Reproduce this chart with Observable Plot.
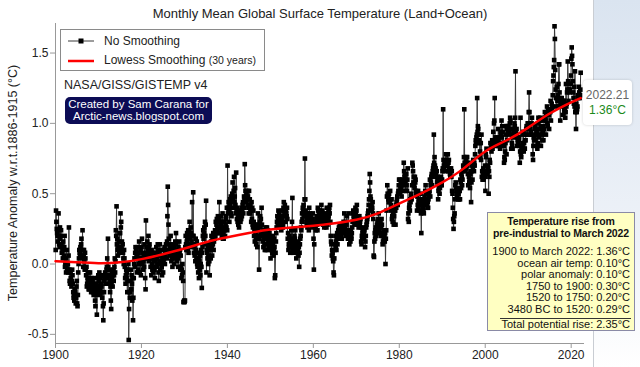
<!DOCTYPE html>
<html><head><meta charset="utf-8">
<script src="https://cdn.jsdelivr.net/npm/d3@7"></script>
<script src="https://cdn.jsdelivr.net/npm/@observablehq/plot@0.6"></script>
<style>
body{margin:0;background:#fff;font-family:"Liberation Sans",Arial,sans-serif;}
#wrap{position:relative;width:640px;height:367px;overflow:hidden;background:#fff}
#panel{position:absolute;left:593px;top:0;width:47px;height:367px;background:linear-gradient(#dae4f0,#eef2f8 65%,#ffffff);border-left:1px solid #c9cdd3}
#chart{position:absolute;left:0;top:0}
#title{position:absolute;left:0;width:640px;top:6px;text-align:center;font-size:13px;color:#222}
#ylab{position:absolute;left:13px;top:183px;transform:translate(-50%,-50%) rotate(-90deg);white-space:nowrap;font-size:12.5px;color:#222}
#legend{position:absolute;left:60px;top:29px;width:203px;height:40px;border:1px solid #8a8a8a;background:#fff}
.lg{position:absolute;left:43px;font-size:12px;color:#222;white-space:nowrap}
#src{position:absolute;left:64px;top:78px;font-size:12.5px;color:#222}
#credit{position:absolute;left:65px;top:97px;width:147px;height:27px;background:#0c0c55;border-radius:5px;color:#fff;font-size:11.5px;line-height:11.5px;text-align:center;padding-top:2px;box-sizing:border-box}
#tip{position:absolute;left:583px;top:80px;width:49px;height:45px;background:#fff;border-radius:4px;box-shadow:0 0 3px rgba(0,0,0,0.18);text-align:center;font-size:12px}
#table{position:absolute;left:487px;top:212px;width:148px;height:119px;background:#ffffc2;border:1px solid #8a8aa6;box-sizing:border-box;font-size:11px;color:#111;white-space:nowrap;overflow:hidden}
</style></head>
<body>
<div id="wrap">
  <div id="panel"></div>
  <div id="chart"></div>
  <div id="title"></div>
  <div id="ylab"></div>
  <div id="legend"></div>
  <div id="src"></div>
  <div id="credit"></div>
  <div id="tip"></div>
  <div id="table"></div>
</div>
<script>
// Monthly anomalies (hundredths of °C, w.r.t. 1886-1915), Jan 1900 .. Mar 2022, one array per decade
const d1900s = [10,38,30,25,22,20,16,24,36,20,14,12, 26,18,20,24,14,8,12,10,4,16,10,6, 12,20,-2,0,4,-6,-2,10,-4,-4,0,-6, 6,26,-4,-12,-14,-6,-10,-14,-16,-12,-4,-8, -14,-20,-24,-22,-26,-18,-20,-22,-28,-24,-16,-12, -28,-30,-22,-6,0,4,10,8,6,12,10,14, 18,6,10,24,4,-2,6,10,2,-4,8,4, -4,-8,-2,-16,-14,-10,-12,-6,-18,-14,-18,-10, -6,-12,-16,-20,-10,-14,-18,-12,-20,-16,-22,-10, -20,-14,-26,-30,-22,-18,-14,-36,-16,-10,-20,-8];
const d1910s = [-12,-16,-6,-18,-22,-10,-14,-8,-16,-20,-24,-8, -30,-40,-28,-20,-12,-10,-6,-14,-8,-10,-4,-2, 4,-10,18,-2,-14,-8,-4,-12,-20,-16,-26,-32, -14,-10,-6,-16,-8,-4,-12,-8,-2,4,-6,2, 24,20,41,14,18,10,6,12,16,8,22,10, 22,36,26,30,12,16,10,14,8,4,0,10, 4,-2,-10,-14,-8,-4,-10,-6,-20,-12,-4,0, -54,-32,-20,-24,-20,-12,-4,-18,-8,-14,-26,-10, -40,-24,-10,0,4,-2,8,12,4,10,6,-6, 6,12,-4,8,0,16,4,-6,2,10,-8,4];
const d1920s = [12,18,0,8,-4,2,6,-2,14,4,-10,-18, 31,8,12,4,16,6,10,20,2,12,14,8, 4,-2,6,-8,10,0,-4,4,8,-6,2,-2, -4,-10,2,6,8,12,-2,4,0,14,10,-6, -12,8,2,14,-4,6,0,10,-2,-8,4,6, -6,2,10,4,12,0,8,6,14,10,4,16, 34,55,42,28,18,10,14,6,12,20,8,2, 4,10,-2,14,6,8,12,0,10,4,16,6, 22,14,8,2,10,4,-2,12,6,16,8,10, -4,6,-2,-10,-4,-8,0,-6,-12,-27,-27,-26];
const d1930s = [-27,-26,12,20,14,10,16,22,18,10,24,8, 14,24,30,18,20,26,22,16,12,44,20,14, 51,20,8,12,6,14,2,18,10,4,16,0, -2,8,-6,4,-10,2,-4,6,-8,0,10,-2, -17,8,12,20,24,18,22,26,14,30,20,28, 45,-6,10,8,4,12,0,6,14,2,-8,10, 10,4,16,20,12,6,18,14,22,10,16,20, 18,24,20,30,22,28,32,24,26,34,30,22, 32,44,26,22,30,28,34,24,20,30,36,18, 22,18,26,30,24,20,28,32,34,26,40,24];
const d1940s = [70,36,40,44,38,30,42,46,40,48,36,34, 44,50,58,46,40,52,62,44,48,54,42,36, 65,38,32,40,30,34,28,36,26,30,38,32, 30,36,32,40,34,38,42,44,36,40,48,46, 71,56,52,48,44,50,46,52,42,48,40,36, 52,40,46,36,42,38,30,44,32,40,28,26, 38,30,20,24,16,28,22,18,14,20,26,12, 24,36,28,20,-4,18,30,34,26,32,22,40, 28,20,16,22,12,18,24,14,10,20,26,10, 22,14,26,18,10,24,16,20,12,22,18,14];
const d1950s = [4,10,18,12,16,8,14,20,6,10,18,12, -10,-8,8,16,22,26,30,34,28,32,38,30, 36,32,26,30,28,34,24,30,38,32,26,28, 40,44,38,36,42,34,30,38,36,34,40,32, 18,22,10,14,12,20,16,8,14,18,24,16, 30,47,10,12,8,16,14,20,18,24,10,12, 4,14,8,12,10,16,6,12,-2,8,14,18, 20,26,24,30,36,32,40,38,42,36,34,46, 75,46,38,34,30,28,32,26,36,30,34,24, 40,30,36,32,28,34,30,26,30,32,36,28];
const d1960s = [18,-4,14,30,28,26,24,30,32,34,28,24, 40,38,32,36,34,30,38,36,30,32,42,34, 36,38,30,28,34,32,26,30,34,36,28,32, 26,40,30,28,32,36,34,38,40,36,42,30, 20,16,14,6,10,8,4,2,-6,-8,4,10, 14,20,12,16,10,18,22,14,20,24,18,26, 18,28,24,20,26,22,20,18,24,28,22,26, 30,22,36,28,26,24,30,20,28,34,22,24, 18,24,36,20,14,22,18,16,24,20,18,22, 26,30,36,38,34,32,36,28,38,40,36,32];
const d1970s = [38,42,30,34,28,30,26,32,34,28,30,32, 26,16,14,20,18,22,24,20,22,18,24,26, 12,16,20,26,28,30,32,34,36,38,42,46, 52,64,58,48,46,40,42,38,40,44,36,32, 6,5,16,22,18,24,26,20,22,28,24,30, 30,32,36,26,24,28,22,30,20,26,32,28, 20,14,16,22,18,24,20,16,22,0,18,24, 38,48,56,50,48,46,44,50,44,46,52,46, 42,38,46,32,34,30,36,40,28,34,40,38, 38,28,42,40,44,46,48,42,50,52,56,60];
const d1980s = [52,60,50,56,54,58,48,56,60,52,58,56, 72,66,62,64,58,52,60,64,56,52,60,68, 32,36,30,40,42,38,46,44,48,50,46,56, 72,70,66,58,62,56,54,62,58,60,52,50, 50,38,48,42,52,40,44,46,38,44,42,50, 36,22,42,44,46,40,42,38,36,44,48,46, 52,56,50,46,44,42,40,44,40,46,48,50, 52,60,48,56,58,62,64,56,62,66,68,70, 92,72,76,70,66,68,64,62,66,58,60,62, 46,52,54,58,50,54,56,58,62,60,56,60];
const d1990s = [66,68,110,74,70,68,72,66,74,70,78,72, 72,74,70,78,66,72,74,68,66,64,62,66, 68,62,66,52,50,40,32,25,30,34,36,46, 56,58,54,52,50,48,54,52,46,50,46,52, 52,46,60,58,54,64,62,56,60,66,70,68, 76,110,72,70,66,68,74,76,72,76,70,64, 56,72,62,58,60,54,64,66,44,58,66,70, 60,68,74,70,66,72,70,78,84,88,86,90, 92,118,94,98,96,92,88,86,76,80,76,86, 74,92,62,66,60,64,68,60,64,66,62,70];
const d2000s = [52,78,76,82,66,64,66,70,68,50,66,62, 74,72,86,82,84,80,86,88,82,84,94,86, 100,102,118,88,90,86,88,84,90,86,88,84, 96,86,84,86,90,82,86,94,92,102,90,98, 84,94,86,84,72,76,74,80,86,92,98,78, 96,88,98,98,94,96,94,92,100,104,102,96, 82,96,86,84,82,92,90,96,94,100,98,104, 137,94,92,96,90,84,88,86,90,88,90,84, 72,80,104,78,76,80,82,84,86,92,94,80, 86,82,82,88,88,92,96,98,96,92,100,96];
const d2010s = [100,108,122,108,100,96,92,94,92,100,104,92, 78,74,84,90,88,90,96,98,88,96,92,94, 84,82,86,100,104,92,90,96,102,104,102,84, 98,96,92,88,94,98,88,96,102,104,108,104, 102,92,106,108,112,100,98,110,108,106,96,110, 110,108,116,102,110,114,110,112,120,130,134,140, 145,169,160,138,124,118,112,126,118,116,120,112, 128,142,142,122,118,102,114,116,112,118,116,114, 106,114,116,116,110,108,110,104,108,128,112,114, 122,124,144,130,116,124,124,122,124,128,128,134];
const d2020s = [146,154,148,142,130,122,118,114,126,112,137,108, 110,96,114,108,110,112,120,118,120,126,122,118, 120,124,136];

// Lowess smoothing (30 years)
const lowessYears = [1900,1905,1910,1915,1920,1925,1930,1935,1940,1945,1950,1955,1960,1965,1970,1975,1980,1985,1990,1995,2000,2005,2010,2015,2020,2022.21];
const lowessValues = [0.02,0.012,0.006,0.012,0.035,0.07,0.11,0.155,0.19,0.22,0.245,0.26,0.272,0.29,0.315,0.36,0.43,0.5,0.58,0.68,0.8,0.88,0.97,1.07,1.15,1.18];

const xTicks = [1900,1920,1940,1960,1980,2000,2020];
const yTicks = [-0.5,0,0.5,1,1.5];

const titleText = "Monthly Mean Global Surface Temperature (Land+Ocean)";
const yLabelText = "Temperature Anomaly w.r.t.1886-1915 (°C)";
const legendLabels = ["No Smoothing","Lowess Smoothing"];
const legendNote = "(30 years)";
const sourceText = "NASA/GISS/GISTEMP v4";
const creditLines = ["Created by Sam Carana for","Arctic-news.blogspot.com"];
const lastLabel = "2022.21";
const lastValue = "1.36°C";
const tableTitle = ["Temperature rise from","pre-industrial to March 2022"];
const tableLabels = ["1900 to March 2022","ocean air temp","polar anomaly","1750 to 1900","1520 to 1750","3480 BC to 1520"];
const tableValues = ["1.36°C","0.10°C","0.10°C","0.30°C","0.20°C","0.29°C"];
const totalLabel = "Total potential rise";
const totalValue = "2.35°C";

const decades = [d1900s,d1910s,d1920s,d1930s,d1940s,d1950s,d1960s,d1970s,d1980s,d1990s,d2000s,d2010s,d2020s];
const monthly = decades.flat().map((c,i) => ({t: 1900 + Math.floor(i/12) + ((i%12)+0.5)/12, v: c/100}));
const lowess = lowessYears.map((t,i) => ({t, v: lowessValues[i]}));

const FONT = '"Liberation Sans", Arial, sans-serif';
const chart = Plot.plot({
  width: 640, height: 367,
  marginLeft: 55, marginRight: 56, marginTop: 23, marginBottom: 24,
  style: {background: "transparent", fontFamily: FONT, fontSize: "12px", color: "#222"},
  x: {domain: [1900, 2023.1], label: null},
  y: {domain: [-0.565, 1.71], label: null},
  marks: [
    Plot.ruleX([1900], {stroke: "#999"}),
    Plot.ruleY([-0.565], {stroke: "#999"}),
    Plot.axisX({ticks: xTicks, tickFormat: d => String(d), tickSize: 5, tickPadding: 2, stroke: "#999", color: "#222", fontSize: 12, label: null}),
    Plot.axisY({ticks: yTicks, tickFormat: d => d.toFixed(1), tickSize: 5, tickPadding: 2, stroke: "#999", color: "#222", fontSize: 12, label: null}),
    Plot.line(monthly, {x: "t", y: "v", stroke: "#3a3a3a", strokeWidth: 1}),
    Plot.dot(monthly, {x: "t", y: "v", symbol: "square", r: 2.6, fill: "#000"}),
    Plot.line(lowess, {x: "t", y: "v", stroke: "#ff0000", strokeWidth: 2.5, curve: "natural"})
  ]
});
document.getElementById("chart").appendChild(chart);

document.getElementById("title").textContent = titleText;
document.getElementById("ylab").textContent = yLabelText;

const lg = document.getElementById("legend");
lg.innerHTML = `
<svg width="40" height="40" style="position:absolute;left:0;top:0">
  <line x1="7" x2="33" y1="11" y2="11" stroke="#3a3a3a" stroke-width="1"/>
  <rect x="17.5" y="8.5" width="5" height="5" fill="#000"/>
  <line x1="7" x2="33" y1="31" y2="31" stroke="#ff0000" stroke-width="2.5"/>
</svg>
<div class="lg" style="top:4px">${legendLabels[0]}</div>
<div class="lg" style="top:23px">${legendLabels[1]} <span style="font-size:10.5px">${legendNote}</span></div>`;

document.getElementById("src").textContent = sourceText;
document.getElementById("credit").innerHTML = creditLines.join("<br>");
document.getElementById("tip").innerHTML =
  `<div style="color:#666;margin-top:8px;line-height:14px">${lastLabel}</div><div style="color:#1a8a1a;line-height:16px">${lastValue}</div>`;

const tb = document.getElementById("table");
let html = `<div style="text-align:center;font-weight:bold;font-size:10.5px;letter-spacing:-0.15px;line-height:11.5px;margin-top:3px">${tableTitle[0]}<br>${tableTitle[1]}</div>`;
html += `<div style="text-align:right;padding-right:4px;margin-top:7px;line-height:11.6px">`;
tableLabels.forEach((l,i) => { html += `<div>${l}: ${tableValues[i]}</div>`; });
html += `</div><div style="border-top:1px solid #333;margin:2px 3px 0 12px;text-align:right;padding-right:1px;line-height:11.6px">${totalLabel}: ${totalValue}</div>`;
tb.innerHTML = html;
</script>
</body></html>
